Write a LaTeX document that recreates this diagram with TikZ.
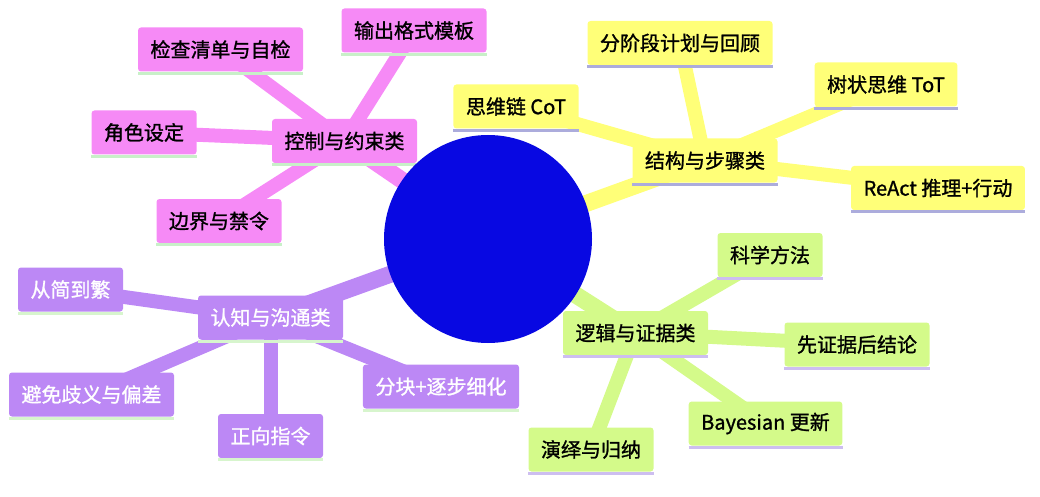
\documentclass[tikz,border=0pt]{standalone}
\usepackage{fontspec}
\setmainfont{Noto Sans CJK SC}[FakeBold=1.2]
\begin{document}
\begin{tikzpicture}[x=1pt,y=-1pt,
  mmnode/.style={rounded corners=3pt, inner xsep=12.5pt, inner ysep=0pt, minimum height=44pt,
    font=\fontsize{20}{23}\selectfont, anchor=center},
  pinkn/.style={mmnode, fill=cPink, text=black},
  yelln/.style={mmnode, fill=cYell, text=black},
  greenn/.style={mmnode, fill=cGreen, text=black},
  purpn/.style={mmnode, fill=cPurp, text=white},
  e0/.style={line width=17pt},
  e1/.style={line width=14pt},
]
\definecolor{cPink}{RGB}{246,138,246}
\definecolor{cYell}{RGB}{255,255,120}
\definecolor{cGreen}{RGB}{212,250,138}
\definecolor{cPurp}{RGB}{188,136,245}
\definecolor{cBlue}{RGB}{8,8,226}
\definecolor{bPinkB}{RGB}{200,240,200}
\definecolor{bYellB}{RGB}{172,172,220}
\definecolor{bGreenB}{RGB}{205,190,240}
\definecolor{bPurpB}{RGB}{215,245,205}
\useasboundingbox (0,0) rectangle (1040,497);

% root
\coordinate (rootc) at (488,239);

% nodes
\node[pinkn] (ctl) at (344.5,141) {控制与约束类};
\node[pinkn] (chk) at (220.5,49.5) {检查清单与自检};
\node[pinkn] (out) at (414,30.5) {输出格式模板};
\node[pinkn] (role) at (144,132.5) {角色设定};
\node[pinkn] (bnd) at (219,221) {边界与禁令};

\node[yelln] (str) at (705,160.5) {结构与步骤类};
\node[yelln] (cot) at (516,106.5) {思维链 CoT};
\node[yelln] (plan) at (680,43) {分阶段计划与回顾};
\node[yelln] (tot) at (886,84.5) {树状思维 ToT};
\node[yelln] (react) at (938,188) {ReAct 推理+行动};

\node[greenn] (logc) at (635.5,333) {逻辑与证据类};
\node[greenn] (sci) at (770,255) {科学方法};
\node[greenn] (evi) at (857,344.5) {先证据后结论};
\node[greenn] (bay) at (765.5,423.5) {Bayesian 更新};
\node[greenn] (ded) at (591,449.5) {演绎与归纳};

\node[purpn] (cog) at (270.5,317.5) {认知与沟通类};
\node[purpn] (s2c) at (70.5,289.5) {从简到繁};
\node[purpn] (amb) at (91.5,394.5) {避免歧义与偏差};
\node[purpn] (pos) at (270.5,436) {正向指令};
\node[purpn] (chunk) at (441,386.5) {分块+逐步细化};

% edges behind
\pgfdeclarelayer{bg}
\pgfsetlayers{bg,main}
\begin{pgfonlayer}{bg}
  \draw[e0,cPink] (rootc) -- (ctl.center);
  \draw[e0,cYell] (rootc) -- (str.center);
  \draw[e0,cGreen] (rootc) -- (logc.center);
  \draw[e0,cPurp] (rootc) -- (cog.center);
  \foreach \a in {chk,out,role,bnd}{\draw[e1,cPink] (ctl.center) -- (\a.center);}
  \foreach \a in {cot,plan,tot,react}{\draw[e1,cYell] (str.center) -- (\a.center);}
  \foreach \a in {sci,evi,bay,ded}{\draw[e1,cGreen] (logc.center) -- (\a.center);}
  \foreach \a in {s2c,amb,pos,chunk}{\draw[e1,cPurp] (cog.center) -- (\a.center);}
\end{pgfonlayer}

% bottom borders
\foreach \n/\c in {ctl/bPinkB,chk/bPinkB,out/bPinkB,role/bPinkB,bnd/bPinkB,
  str/bYellB,cot/bYellB,plan/bYellB,tot/bYellB,react/bYellB,
  logc/bGreenB,sci/bGreenB,evi/bGreenB,bay/bGreenB,ded/bGreenB,
  cog/bPurpB,s2c/bPurpB,amb/bPurpB,pos/bPurpB,chunk/bPurpB}{
  \draw[line width=3pt,\c] ([yshift=-1.5pt]\n.south west) -- ([yshift=-1.5pt]\n.south east);
}

% root circle
\node[circle, fill=cBlue, minimum size=208pt, inner sep=0pt] (root) at (rootc) {};
\end{tikzpicture}
\end{document}
